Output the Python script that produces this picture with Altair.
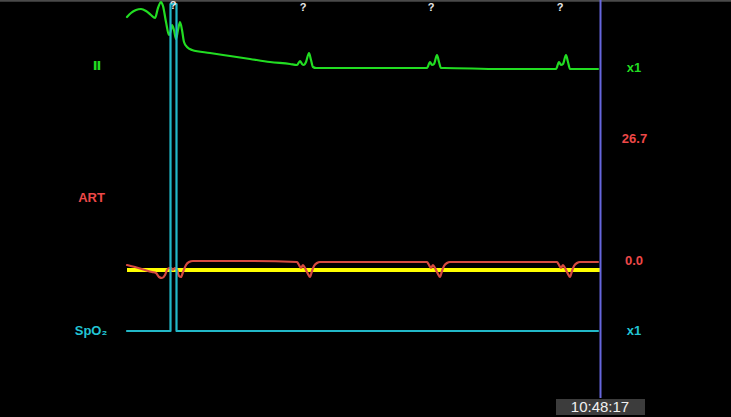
import altair as alt
import pandas as pd

# ---- Data (screen units: x = sweep position, y = display level, top = 0) ----
ecg_x = [127, 131, 136, 141, 146, 151, 155, 158, 161, 163, 166, 169, 171, 172, 174, 176, 178, 180, 182, 184, 187,
         192, 210, 230, 250, 270, 290, 297, 300, 302, 304, 306, 309, 311, 313, 316, 360, 427, 430, 432, 434, 437,
         439, 441, 444, 500, 556, 559, 561, 563, 566, 568, 570, 573, 598]
ecg_y = [17, 13, 10, 9, 11, 15, 18, 8, 2, 6, 22, 35, 30, 25, 30, 39, 30, 22, 30, 42, 47,
         50, 53, 56, 59, 62, 64, 65, 61, 64, 65, 62, 53, 60, 67, 68, 68, 68, 62, 65, 64, 55,
         62, 68, 68, 69, 69, 62, 65, 64, 55, 62, 69, 69, 69]

art_x = [127, 135, 145, 152, 156, 159, 162, 165, 167, 169, 171, 173, 175, 177, 179, 181, 183, 186, 189, 193, 250,
         297, 299, 301, 303, 305, 308, 310, 312, 314, 317, 320, 427, 429, 431, 433, 435, 438, 440, 442, 444, 447,
         450, 557, 559, 561, 563, 565, 568, 570, 572, 574, 577, 580, 598]
art_y = [265, 267, 270, 272, 273, 277, 278, 275, 270, 268, 268, 270, 268, 270, 276, 277, 272, 265, 262, 261, 261,
         262, 265, 268, 265, 268, 274, 277, 271, 266, 263, 262, 262, 265, 268, 265, 268, 274, 277, 271, 266, 263,
         262, 262, 265, 268, 265, 268, 274, 277, 271, 266, 263, 262, 262]

spo2_x = [127, 170.5, 170.5, 176.5, 176.5, 598]
spo2_y = [331, 331, 4, 4, 331, 331]

zero_x = [127, 600]
zero_y = [270, 270]

beat_marks_x = [173, 303, 431, 560]
beat_marks_y = [6, 8, 8, 8]

lead_label = "Ⅱ"
lead_x = [97]
lead_y = [66]

left_labels = ["ART", "SpO₂"]
left_x = [91.5, 91]
left_y = [198, 331]
left_colors = ["#ee4848", "#22c4d4"]

right_labels = ["x1", "26.7", "0.0", "x1"]
right_x = [634, 634.5, 634, 634]
right_y = [68, 139, 261, 331]
right_colors = ["#22dd22", "#ee4848", "#ee4848", "#22c4d4"]

clock_text = "10:48:17"

# ---- Scales ----
xs = alt.Scale(domain=[0, 731], nice=False, zero=False)
ys = alt.Scale(domain=[417, 0], nice=False, zero=False)
X = alt.X("x:Q", scale=xs, axis=None)
Y = alt.Y("y:Q", scale=ys, axis=None)


def line_df(xv, yv):
    return pd.DataFrame({"x": xv, "y": yv, "i": list(range(len(xv)))})


def wave(xv, yv, color, width, interp="monotone", cap="round"):
    return alt.Chart(line_df(xv, yv)).mark_line(
        color=color, strokeWidth=width, interpolate=interp, strokeCap=cap, strokeJoin="round"
    ).encode(x=X, y=Y, order="i:Q")


top_border = alt.Chart(pd.DataFrame({"x": [0], "x2": [731], "y": [0.8]})).mark_rule(
    color="#4a4a4a", strokeWidth=2
).encode(x=X, x2="x2:Q", y=Y)

yellow = wave(zero_x, zero_y, "#ffff00", 4, "linear", "butt")
art = wave(art_x, art_y, "#d84a40", 2.2)
ecg = wave(ecg_x, ecg_y, "#22dd22", 2.2)
spo2 = wave(spo2_x, spo2_y, "#22b8c8", 2.2, "linear")

sweep = alt.Chart(pd.DataFrame({"x": [600.5], "y": [0], "y2": [398]})).mark_rule(
    color="#6666dd", strokeWidth=2
).encode(x=X, y=Y, y2="y2:Q")

marks_q = alt.Chart(pd.DataFrame({"x": beat_marks_x, "y": beat_marks_y, "t": ["?"] * len(beat_marks_x)})).mark_text(
    color="#e8e8e8", fontSize=11, fontWeight="bold", font="Liberation Sans", baseline="middle"
).encode(x=X, y=Y, text="t:N")

lead = alt.Chart(pd.DataFrame({"x": lead_x, "y": lead_y, "t": [lead_label]})).mark_text(
    color="#22dd22", fontSize=13, fontWeight="bold", font="DejaVu Sans", baseline="middle", align="center"
).encode(x=X, y=Y, text="t:N")

left_df = pd.DataFrame({"x": left_x, "y": left_y, "t": left_labels, "c": left_colors})
left = alt.Chart(left_df).mark_text(
    fontSize=13, fontWeight="bold", font="Liberation Sans", baseline="middle", align="center"
).encode(x=X, y=Y, text="t:N", color=alt.Color("c:N", scale=None))

right_df = pd.DataFrame({"x": right_x, "y": right_y, "t": right_labels, "c": right_colors})
right = alt.Chart(right_df).mark_text(
    fontSize=13, fontWeight="bold", font="Liberation Sans", baseline="middle", align="center"
).encode(x=X, y=Y, text="t:N", color=alt.Color("c:N", scale=None))

clock_box = alt.Chart(pd.DataFrame({"x": [556], "x2": [645], "y": [399], "y2": [415]})).mark_rect(
    color="#3c3c3c"
).encode(x=X, x2="x2:Q", y=Y, y2="y2:Q")

clock = alt.Chart(pd.DataFrame({"x": [600], "y": [407], "t": [clock_text]})).mark_text(
    color="#f0f0f0", fontSize=15, font="Liberation Sans", baseline="middle", align="center"
).encode(x=X, y=Y, text="t:N")

chart = alt.layer(
    top_border, yellow, art, ecg, spo2, sweep, marks_q, lead, left, right, clock_box, clock
).properties(
    width=731, height=417, padding=0, autosize=alt.AutoSizeParams(type="none"), background="#000000"
).configure_view(stroke=None)

chart.save("out.html", embed_options={"renderer": "svg", "actions": False})
